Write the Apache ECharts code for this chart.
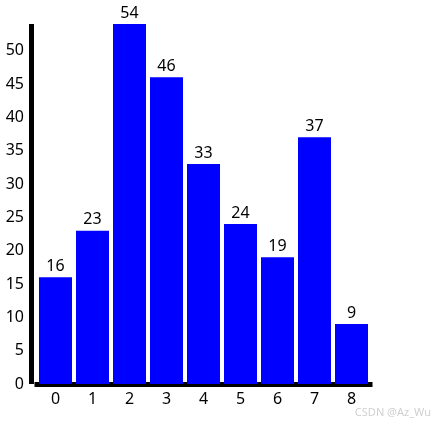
<!DOCTYPE html>
<html>
<head>
<meta charset="utf-8">
<script src="https://cdn.jsdelivr.net/npm/echarts@6/dist/echarts.min.js"></script>
<style>
  html, body { margin: 0; padding: 0; background: #fff; }
  #main { width: 438px; height: 426px; }
</style>
</head>
<body>
<div id="main"></div>
<script>
  // 数据
  var categories = ['0', '1', '2', '3', '4', '5', '6', '7', '8'];
  var values = [16, 23, 54, 46, 33, 24, 19, 37, 9];
  var yTicks = [0, 5, 10, 15, 20, 25, 30, 35, 40, 45, 50];

  var myChart = echarts.init(document.getElementById('main'));
  myChart.setOption({
    animation: false,
    textStyle: {
      fontFamily: 'Noto Sans'
    },
    title: {
      text: 'CSDN @Az_Wu',
      right: 2,
      bottom: 3,
      textStyle: {
        fontSize: 11,
        fontWeight: 'normal',
        color: '#d0d0d0',
        fontFamily: 'Noto Sans'
      }
    },
    grid: {
      top: 24,
      bottom: 42,
      left: 37,
      right: 68,
      containLabel: false
    },
    xAxis: {
      type: 'category',
      data: categories,
      offset: 2.5,
      axisLine: {
        lineStyle: { color: '#000', width: 5, cap: 'square' }
      },
      axisTick: { show: false },
      axisLabel: {
        color: '#000',
        fontSize: 16,
        margin: 5
      }
    },
    yAxis: {
      type: 'value',
      min: 0,
      max: 54,
      interval: 5,
      offset: 6,
      splitLine: { show: false },
      axisLine: {
        show: true,
        lineStyle: { color: '#000', width: 5, cap: 'butt' }
      },
      axisTick: { show: false },
      axisLabel: {
        color: '#000',
        fontSize: 16,
        margin: 7,
        formatter: function (v) {
          return yTicks.indexOf(v) >= 0 ? v : '';
        }
      }
    },
    series: [{
      type: 'bar',
      data: values,
      barWidth: 33,
      itemStyle: { color: '#0000ff' },
      label: {
        show: true,
        position: 'top',
        distance: 3,
        color: '#000',
        fontSize: 16
      }
    }]
  });
</script>
</body>
</html>
